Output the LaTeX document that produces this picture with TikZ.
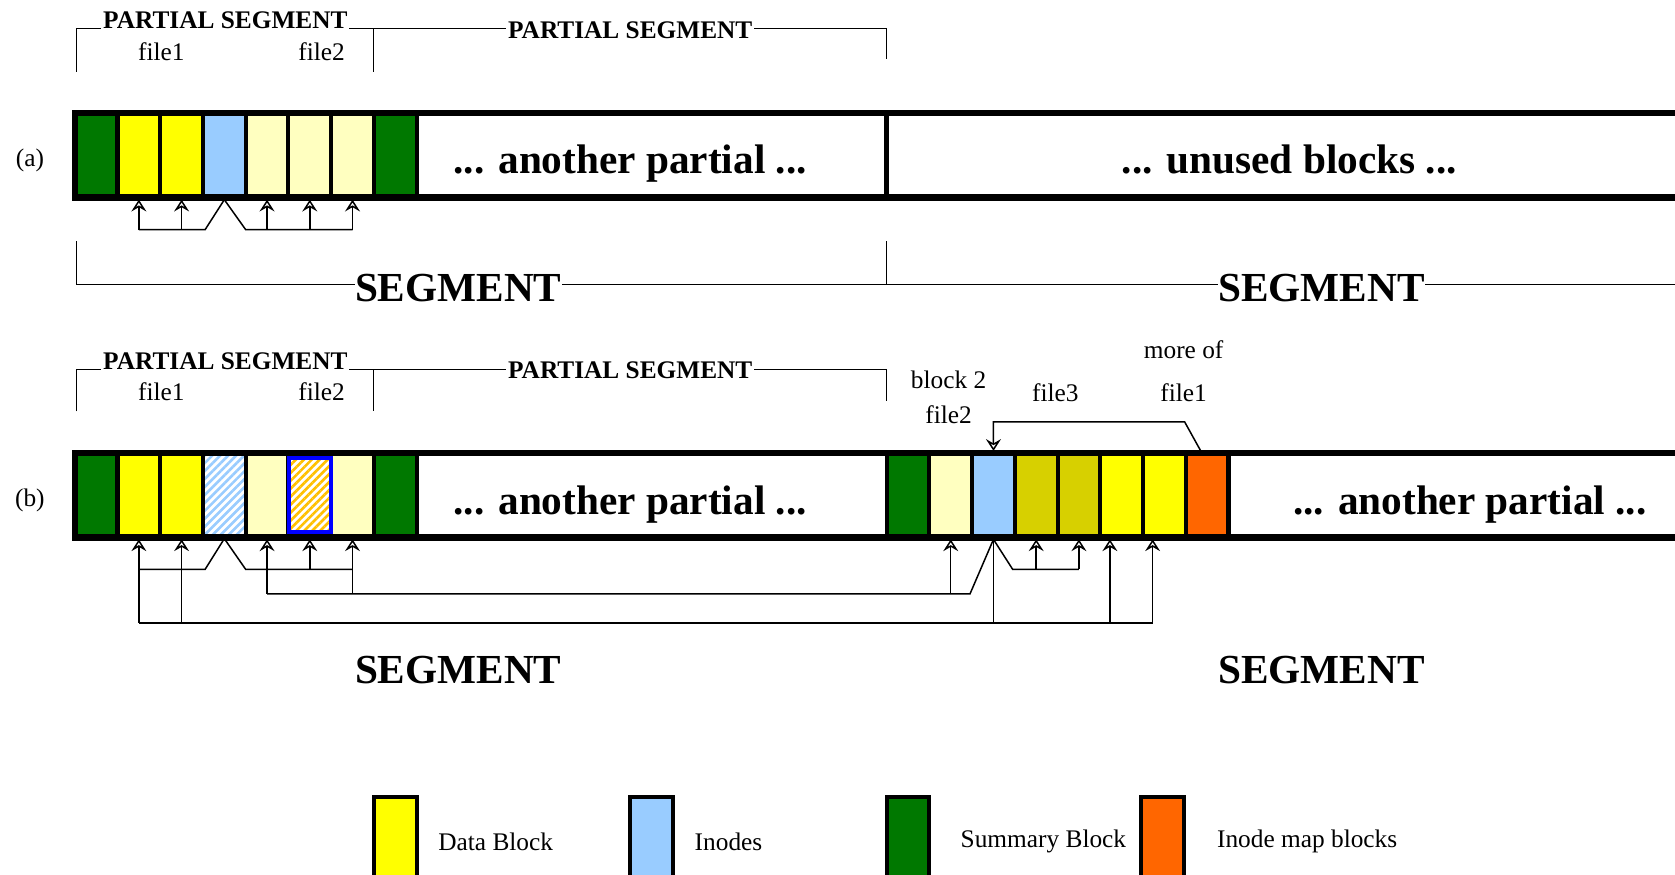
\documentclass[tikz,border=0pt]{standalone}
\usepackage{fontspec}
\setmainfont{Liberation Serif}
\usetikzlibrary{arrows.meta, positioning, calc, patterns.meta}
\definecolor{summarygreen}{RGB}{0,120,0}
\definecolor{datayellow}{RGB}{255,255,0}
\definecolor{paleyellow}{RGB}{255,255,192}
\definecolor{inodeblue}{RGB}{153,204,255}
\definecolor{oliveyellow}{RGB}{215,208,0}
\definecolor{imaporange}{RGB}{255,102,0}
\definecolor{hatchorange}{RGB}{255,192,0}
\definecolor{moveblue}{RGB}{0,0,255}

\begin{document}
\begin{tikzpicture}[
    x=0.02cm, y=-0.02cm,
    blk/.style={draw, line width=2.2pt, minimum width=0.8cm, minimum height=1.58cm, inner sep=0pt},
    bar/.style={line width=3.4pt},
    conn/.style={line width=0.8pt},
    arw/.style={conn, -{Stealth[open, length=2.2mm, width=2.8mm, inset=0.8mm]}},
    brk/.style={line width=0.6pt},
    small/.style={font=\fontsize{13.5}{16}\selectfont},
    psl/.style={font=\bfseries\fontsize{13.5}{16}\selectfont, fill=white, inner sep=1pt},
    big/.style={font=\bfseries\fontsize{22}{26}\selectfont}
]
    \clip (0,0) rectangle (1568,819);

    % Row (a)
    \node[small] (rowa) at (28,150) {(a)};
    \foreach \i/\c in {1/summarygreen, 2/datayellow, 3/datayellow, 4/inodeblue,
                       5/paleyellow, 6/paleyellow, 7/paleyellow, 8/summarygreen}
        \node[blk, fill=\c] (a\i) at ({50+40*\i},145.5) {};
    \draw[bar] (1600,106) -- (70,106) -- (70,185) -- (1600,185);
    \draw[line width=2.8pt] (830,106) -- (830,185);
    \node[big, anchor=base] (otha) at (590,162) {... another partial ...};
    \node[big, anchor=base] (unused) at (1207,162) {... unused blocks ...};

    % Brackets (a)
    \draw[brk] (72,67) -- (72,27) -- (830,27) -- (830,55);
    \draw[brk] (350,27) -- (350,67);
    \node[psl] (psa1) at (211,19) {PARTIAL SEGMENT};
    \node[psl] (psa2) at (590,28) {PARTIAL SEGMENT};
    \node[small] (fa1) at (151,48) {file1};
    \node[small] (fa2) at (301,48) {file2};

    % Pointers (a)
    \coordinate (aL) at (192,215);
    \coordinate (aR) at (230,215);
    \draw[conn] (a4.south) -- (aL) -- (aL -| a2);
    \draw[conn] (a4.south) -- (aR) -- (aR -| a7);
    \foreach \n in {a2,a3} \draw[arw] (aL -| \n) -- (\n.south);
    \foreach \n in {a5,a6,a7} \draw[arw] (aR -| \n) -- (\n.south);

    % Segment bracket (a)
    \draw[brk] (72,226) -- (72,266) -- (1600,266);
    \draw[brk] (830,226) -- (830,266);
    \node[big, fill=white, inner xsep=0pt, inner ysep=1pt] (sega1) at (429,270) {SEGMENT};
    \node[big, fill=white, inner xsep=0pt, inner ysep=1pt] (sega2) at (1237,270) {SEGMENT};

    % Row (b)
    \node[small] (rowb) at (28,468) {(b)};
    \foreach \i/\c in {1/summarygreen, 2/datayellow, 3/datayellow,
                       5/paleyellow, 7/paleyellow, 8/summarygreen}
        \node[blk, fill=\c] (b\i) at ({50+40*\i},463.5) {};
    \node[blk, pattern={Lines[angle=45, distance=3pt, line width=1.4pt]}, pattern color=inodeblue] (b4) at (210,463.5) {};
    \foreach \i/\c in {1/summarygreen, 2/paleyellow, 3/inodeblue, 4/oliveyellow,
                       5/oliveyellow, 6/datayellow, 7/datayellow, 8/imaporange}
        \node[blk, fill=\c] (c\i) at ({810+40*\i},463.5) {};
    \draw[bar] (1600,424) -- (70,424) -- (70,503) -- (1600,503);
    \node[blk, draw=moveblue, minimum height=1.38cm, minimum width=0.78cm,
          pattern={Lines[angle=45, distance=3pt, line width=1.4pt]}, pattern color=hatchorange] (b6) at (290,463.5) {};
    \node[big, anchor=base] (othb1) at (590,482) {... another partial ...};
    \node[big, anchor=base] (othb2) at (1376,482) {... another partial ...};

    % Brackets (b)
    \draw[brk] (72,385) -- (72,346) -- (830,346) -- (830,375);
    \draw[brk] (350,346) -- (350,385);
    \node[psl] (psb1) at (211,338) {PARTIAL SEGMENT};
    \node[psl] (psb2) at (590,347) {PARTIAL SEGMENT};
    \node[small] (fb1) at (151,367) {file1};
    \node[small] (fb2) at (301,367) {file2};
    \node[small] (blk2) at (888,356) {block 2};
    \node[small] (fb2n) at (888,388) {file2};
    \node[small] (fb3) at (988,368) {file3};
    \node[small] (more) at (1108,327) {more of};
    \node[small] (fb1n) at (1108,368) {file1};

    % Pointers (b)
    \coordinate (bL) at (192,533);
    \coordinate (bR) at (230,533);
    \coordinate (bM) at (908,556);
    \coordinate (bB) at (929,583);
    \coordinate (cR) at (948,533);
    \coordinate (cT) at (1109,395);
    \coordinate (c6t) at ($(c6.south)+(-11,0)$);
    \coordinate (c7t) at ($(c7.south)+(-11,0)$);
    \draw[conn] (b4.south) -- (bL) -- (bL -| b2);
    \draw[conn] (b4.south) -- (bR) -- (bR -| b7);
    \draw[conn] (c3.south) -- (bM) -- (bM -| b5);
    \draw[conn] (c3.south) -- (cR) -- (cR -| c5);
    \draw[conn] (c3.south) -- (c3.south |- bB);
    \draw[conn] (bB -| b2) -- (bB -| c7t);
    \foreach \n in {b2,b3} \draw[arw] (bB -| \n) -- (\n.south);
    \foreach \n in {b5,b7,c2} \draw[arw] (bM -| \n) -- (\n.south);
    \draw[arw] (bR -| b6) -- (b6.south |- b5.south);
    \foreach \n in {c4,c5} \draw[arw] (cR -| \n) -- (\n.south);
    \foreach \n in {c6t,c7t} \draw[arw] (bB -| \n) -- (\n);
    \draw[arw] ($(c8.north)+(-6,0)$) -- (cT) -- (cT -| c3) -- (c3.north);

    \node[big] (segb1) at (429,627) {SEGMENT};
    \node[big] (segb2) at (1237,627) {SEGMENT};

    % Legend
    \node[blk, fill=datayellow, minimum height=1.76cm] (lg1) at (370,790) {};
    \node[blk, fill=inodeblue, minimum height=1.76cm] (lg2) at (610,790) {};
    \node[blk, fill=summarygreen, minimum height=1.76cm] (lg3) at (850,790) {};
    \node[blk, fill=imaporange, minimum height=1.76cm] (lg4) at (1088,790) {};
    \node[small, anchor=west, inner sep=0pt] (lt1) at (410,788) {Data Block};
    \node[small, anchor=west, inner sep=0pt] (lt2) at (650,788) {Inodes};
    \node[small, anchor=west, inner sep=0pt] (lt3) at (899,788) {Summary Block};
    \node[small, anchor=west, inner sep=0pt] (lt4) at (1139,788) {Inode map blocks};
\end{tikzpicture}
\end{document}
